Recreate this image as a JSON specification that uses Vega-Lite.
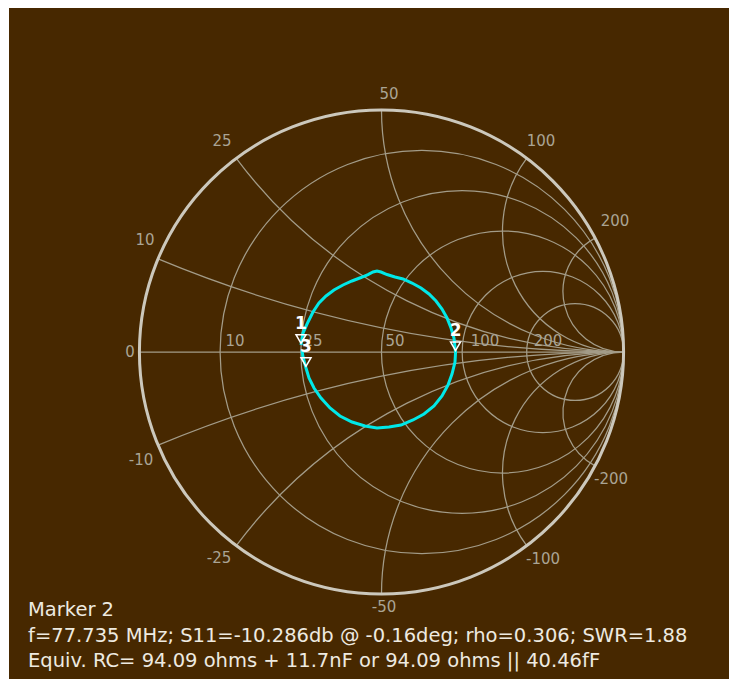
{
  "$schema": "https://vega.github.io/schema/vega-lite/v6.json",
  "width": 720,
  "height": 671,
  "autosize": "none",
  "padding": {"left": 9, "top": 8, "right": 7, "bottom": 8},
  "background": "#ffffff",
  "config": {"view": {"fill": "#472800", "stroke": null}},
  "datasets": {
    "grid": [
      {"kind": "r", "val": 10, "gx": 0.16667, "gy": 0, "rad": 0.83333, "t0": 0, "t1": 360},
      {"kind": "r", "val": 25, "gx": 0.33333, "gy": 0, "rad": 0.66667, "t0": 0, "t1": 360},
      {"kind": "r", "val": 50, "gx": 0.5, "gy": 0, "rad": 0.5, "t0": 0, "t1": 360},
      {"kind": "r", "val": 100, "gx": 0.66667, "gy": 0, "rad": 0.33333, "t0": 0, "t1": 360},
      {"kind": "r", "val": 200, "gx": 0.8, "gy": 0, "rad": 0.2, "t0": 0, "t1": 360},
      {"kind": "x", "val": 10, "gx": 1, "gy": 5, "rad": 5, "t0": 180, "t1": 202.62},
      {"kind": "x", "val": 25, "gx": 1, "gy": 2, "rad": 2, "t0": 180, "t1": 233.13},
      {"kind": "x", "val": 50, "gx": 1, "gy": 1, "rad": 1, "t0": 180, "t1": 270},
      {"kind": "x", "val": 100, "gx": 1, "gy": 0.5, "rad": 0.5, "t0": 180, "t1": 306.87},
      {"kind": "x", "val": 200, "gx": 1, "gy": 0.25, "rad": 0.25, "t0": 180, "t1": 331.93},
      {"kind": "x", "val": -10, "gx": 1, "gy": -5, "rad": 5, "t0": 337.38, "t1": 360},
      {"kind": "x", "val": -25, "gx": 1, "gy": -2, "rad": 2, "t0": 306.87, "t1": 360},
      {"kind": "x", "val": -50, "gx": 1, "gy": -1, "rad": 1, "t0": 270, "t1": 360},
      {"kind": "x", "val": -100, "gx": 1, "gy": -0.5, "rad": 0.5, "t0": 233.13, "t1": 360},
      {"kind": "x", "val": -200, "gx": 1, "gy": -0.25, "rad": 0.25, "t0": 208.07, "t1": 360}
    ],
    "labels": [
      {"t": "0", "gx": -1.0393, "gy": 0},
      {"t": "10", "gx": -0.9773, "gy": 0.4628},
      {"t": "25", "gx": -0.6591, "gy": 0.8719},
      {"t": "50", "gx": 0.031, "gy": 1.0661},
      {"t": "100", "gx": 0.6591, "gy": 0.8719},
      {"t": "200", "gx": 0.9649, "gy": 0.5413},
      {"t": "-10", "gx": -0.9938, "gy": -0.4463},
      {"t": "-25", "gx": -0.6715, "gy": -0.8512},
      {"t": "-50", "gx": 0.0103, "gy": -1.0537},
      {"t": "-100", "gx": 0.6674, "gy": -0.8554},
      {"t": "-200", "gx": 0.9483, "gy": -0.5248},
      {"t": "10", "gx": -0.6054, "gy": 0.0455},
      {"t": "25", "gx": -0.2831, "gy": 0.0455},
      {"t": "50", "gx": 0.0558, "gy": 0.0455},
      {"t": "100", "gx": 0.4277, "gy": 0.0455},
      {"t": "200", "gx": 0.688, "gy": 0.0455}
    ],
    "trace": [
      {"i": 1, "gx": -0.3326, "gy": 0.0289},
      {"i": 2, "gx": -0.3244, "gy": 0.0785},
      {"i": 3, "gx": -0.3037, "gy": 0.124},
      {"i": 4, "gx": -0.2831, "gy": 0.1653},
      {"i": 5, "gx": -0.2583, "gy": 0.2025},
      {"i": 6, "gx": -0.2293, "gy": 0.2314},
      {"i": 7, "gx": -0.1963, "gy": 0.2562},
      {"i": 8, "gx": -0.1591, "gy": 0.2769},
      {"i": 9, "gx": -0.1219, "gy": 0.2934},
      {"i": 10, "gx": -0.0847, "gy": 0.3078},
      {"i": 11, "gx": -0.0558, "gy": 0.3202},
      {"i": 12, "gx": -0.0351, "gy": 0.3306},
      {"i": 13, "gx": -0.0186, "gy": 0.3347},
      {"i": 14, "gx": -0.0021, "gy": 0.3306},
      {"i": 15, "gx": 0.0227, "gy": 0.3202},
      {"i": 16, "gx": 0.0558, "gy": 0.3099},
      {"i": 17, "gx": 0.0888, "gy": 0.3017},
      {"i": 18, "gx": 0.126, "gy": 0.2851},
      {"i": 19, "gx": 0.1632, "gy": 0.2645},
      {"i": 20, "gx": 0.1963, "gy": 0.2397},
      {"i": 21, "gx": 0.2252, "gy": 0.2107},
      {"i": 22, "gx": 0.25, "gy": 0.1777},
      {"i": 23, "gx": 0.2707, "gy": 0.1405},
      {"i": 24, "gx": 0.2872, "gy": 0.0992},
      {"i": 25, "gx": 0.2996, "gy": 0.0579},
      {"i": 26, "gx": 0.306, "gy": -0.0009},
      {"i": 27, "gx": 0.3037, "gy": -0.0413},
      {"i": 28, "gx": 0.2913, "gy": -0.0909},
      {"i": 29, "gx": 0.2748, "gy": -0.1364},
      {"i": 30, "gx": 0.25, "gy": -0.1818},
      {"i": 31, "gx": 0.2169, "gy": -0.2231},
      {"i": 32, "gx": 0.1756, "gy": -0.2562},
      {"i": 33, "gx": 0.1302, "gy": -0.281},
      {"i": 34, "gx": 0.0806, "gy": -0.3017},
      {"i": 35, "gx": 0.031, "gy": -0.3099},
      {"i": 36, "gx": -0.0186, "gy": -0.314},
      {"i": 37, "gx": -0.0682, "gy": -0.3058},
      {"i": 38, "gx": -0.1219, "gy": -0.2893},
      {"i": 39, "gx": -0.1715, "gy": -0.2645},
      {"i": 40, "gx": -0.2128, "gy": -0.2314},
      {"i": 41, "gx": -0.25, "gy": -0.1901},
      {"i": 42, "gx": -0.2789, "gy": -0.1488},
      {"i": 43, "gx": -0.2996, "gy": -0.1074},
      {"i": 44, "gx": -0.312, "gy": -0.0661},
      {"i": 45, "gx": -0.3244, "gy": -0.0207},
      {"i": 46, "gx": -0.3285, "gy": 0.0083}
    ],
    "markers": [
      {"m": "1", "gx": -0.3326, "gy": 0.0289},
      {"m": "2", "gx": 0.306, "gy": -0.0009},
      {"m": "3", "gx": -0.312, "gy": -0.0661}
    ],
    "info": [
      {"t": "Marker 2", "gx": -1.4607, "gy": -1.0661},
      {"t": "f=77.735 MHz; S11=-10.286db @ -0.16deg; rho=0.306; SWR=1.88", "gx": -1.4607, "gy": -1.1736},
      {"t": "Equiv. RC= 94.09 ohms + 11.7nF or 94.09 ohms || 40.46fF", "gx": -1.4607, "gy": -1.2769}
    ]
  },
  "encoding": {
    "x": {"field": "gx", "type": "quantitative", "scale": {"domain": [-1.5393, 1.436], "nice": false, "zero": false}, "axis": null},
    "y": {"field": "gy", "type": "quantitative", "scale": {"domain": [-1.3512, 1.4215], "nice": false, "zero": false}, "axis": null}
  },
  "layer": [
    {
      "data": {"name": "grid"},
      "mark": {"type": "arc", "filled": false, "stroke": "#a39c88", "strokeWidth": 1.25},
      "encoding": {
        "radius": {"field": "rad", "type": "quantitative", "scale": {"type": "linear", "domain": [0, 1], "range": [0, 242], "zero": true}},
        "radius2": {"field": "rad"},
        "theta": {"field": "t0", "type": "quantitative", "stack": null, "scale": {"type": "linear", "domain": [0, 360], "range": [0, 6.283185307179586]}},
        "theta2": {"field": "t1"}
      }
    },
    {
      "data": {"values": [{"gx": -1, "gx2": 1, "gy": 0}]},
      "mark": {"type": "rule", "stroke": "#a39c88", "strokeWidth": 1.25},
      "encoding": {"x2": {"field": "gx2"}}
    },
    {
      "data": {"values": [{"gx": 0, "gy": 0, "rad": 1, "t0": 0, "t1": 360}]},
      "mark": {"type": "arc", "filled": false, "stroke": "#ccc8bc", "strokeWidth": 3},
      "encoding": {
        "radius": {"field": "rad", "type": "quantitative", "scale": {"type": "linear", "domain": [0, 1], "range": [0, 242], "zero": true}},
        "radius2": {"field": "rad"},
        "theta": {"field": "t0", "type": "quantitative", "stack": null, "scale": {"type": "linear", "domain": [0, 360], "range": [0, 6.283185307179586]}},
        "theta2": {"field": "t1"}
      }
    },
    {
      "data": {"name": "labels"},
      "mark": {"type": "text", "align": "center", "baseline": "middle", "font": "DejaVu Sans", "fontSize": 15, "color": "#aaa494"},
      "encoding": {"text": {"field": "t"}}
    },
    {
      "data": {"name": "trace"},
      "mark": {"type": "line", "stroke": "#00e8e8", "strokeWidth": 3},
      "encoding": {"order": {"field": "i", "type": "quantitative"}}
    },
    {
      "data": {"name": "markers"},
      "mark": {"type": "point", "shape": "triangle-down", "size": 100, "filled": false, "stroke": "#ffffff", "strokeWidth": 1.5, "yOffset": -6, "opacity": 1}
    },
    {
      "data": {"name": "markers"},
      "mark": {"type": "text", "align": "center", "baseline": "middle", "dy": -21, "font": "DejaVu Sans", "fontWeight": "bold", "fontSize": 17, "color": "#ffffff"},
      "encoding": {"text": {"field": "m"}}
    },
    {
      "data": {"name": "info"},
      "mark": {"type": "text", "align": "left", "baseline": "middle", "font": "DejaVu Sans", "fontSize": 19.5, "color": "#eeeae0"},
      "encoding": {"text": {"field": "t"}}
    }
  ]
}
